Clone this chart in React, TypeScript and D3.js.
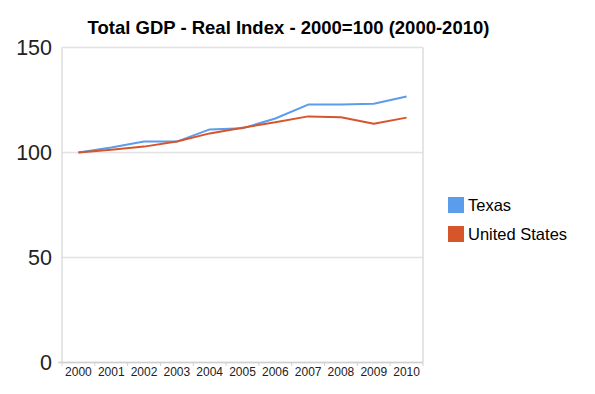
import React from "react";
import * as d3 from "d3";

const years = ["2000","2001","2002","2003","2004","2005","2006","2007","2008","2009","2010"];
const texas = [100, 102.4, 105.2, 105.2, 111.0, 111.5, 116.2, 122.8, 122.8, 123.2, 126.7];
const unitedStates = [100, 101.3, 102.8, 105.2, 109.1, 111.8, 114.4, 117.2, 116.8, 113.7, 116.6];
const yTicks = [0, 50, 100, 150];
const seriesNames = ["Texas", "United States"];
const colors = ["#5b9cec", "#d6552b"];

const W = 595, H = 394;
const left = 62, right = 423, top = 47.5, bottom = 362.5;

export default function App() {
  const x = d3.scalePoint<string>().domain(years).range([left, right]).padding(0.5);
  const band = (right - left) / years.length;
  const y = d3.scaleLinear().domain([0, 150]).range([bottom, top]);
  const line = d3.line<number>().x((_, i) => x(years[i])!).y((d) => y(d));
  const series = [texas, unitedStates];
  const font = "Arial, 'Liberation Sans', Helvetica, sans-serif";
  return (
    <svg width={W} height={H} style={{ position: "absolute", left: 0, top: 0, background: "#fff" }} fontFamily={font}>
      <text x={288.5} y={33.5} textAnchor="middle" fontSize={18.5} fontWeight="bold" fill="#000">
        Total GDP - Real Index - 2000=100 (2000-2010)
      </text>
      {yTicks.map((t) => (
        <g key={t}>
          <line x1={left} x2={right} y1={y(t)} y2={y(t)} stroke="#e2e2e2" strokeWidth={1.5} />
          <text x={52} y={y(t)} dy="0.35em" textAnchor="end" fontSize={21.5} fill="#222">{t}</text>
        </g>
      ))}
      <line x1={left} x2={left} y1={top} y2={bottom} stroke="#dcdcdc" strokeWidth={1.5} />
      <line x1={right} x2={right} y1={top} y2={bottom} stroke="#dcdcdc" strokeWidth={1.5} />
      <line x1={left - 4} x2={right} y1={bottom} y2={bottom} stroke="#d0d0d0" strokeWidth={1.5} />
      {d3.range(years.length + 1).map((i) => (
        <line key={i} x1={left + i * band} x2={left + i * band} y1={bottom} y2={bottom + 3.5} stroke="#d0d0d0" strokeWidth={1} />
      ))}
      {years.map((yr) => (
        <text key={yr} x={x(yr)!} y={376} textAnchor="middle" fontSize={12} fill="#222">{yr}</text>
      ))}
      {series.map((s, i) => (
        <path key={i} d={line(s)!} fill="none" stroke={colors[i]} strokeWidth={2} strokeLinejoin="round" />
      ))}
      {seriesNames.map((n, i) => (
        <g key={n}>
          <rect x={448} y={197 + i * 29} width={16} height={16} fill={colors[i]} />
          <text x={468} y={211 + i * 29} fontSize={16.5} fill="#000">{n}</text>
        </g>
      ))}
    </svg>
  );
}
